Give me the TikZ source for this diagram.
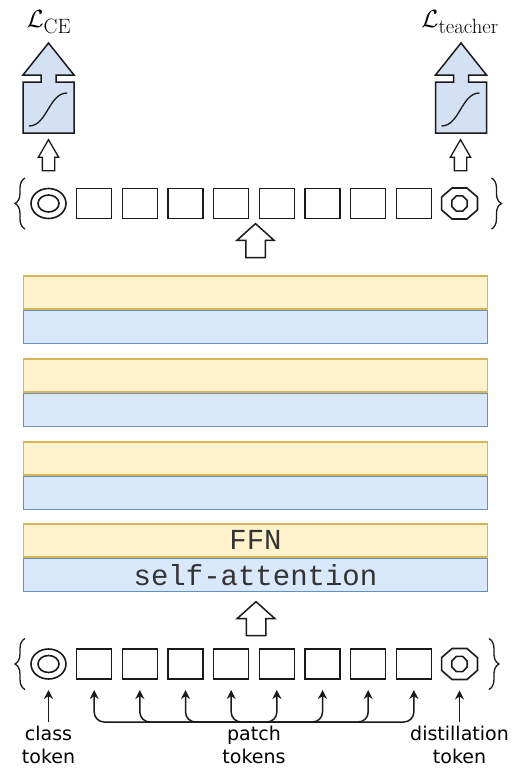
\documentclass[tikz,border=0pt]{standalone}
\usepackage{amsmath}
\usepackage{fontspec}
\setmonofont{Liberation Mono}
\newfontfamily\lblfont{DejaVu Sans}
\usetikzlibrary{positioning, calc, arrows.meta, shapes.arrows, shapes.geometric, decorations.pathreplacing}

\definecolor{ffnfill}{HTML}{FFF2CC}
\definecolor{ffnline}{HTML}{D6B656}
\definecolor{attfill}{HTML}{DAE8FC}
\definecolor{attline}{HTML}{6C8EBF}
\definecolor{lossfill}{HTML}{D4E1F5}
\definecolor{tokline}{HTML}{1A1A1A}
\definecolor{laytext}{HTML}{333333}

% sigmoid output box with its arrow head on top
\newcommand{\lossout}[2]{%
  \node[lossbox] (#1) at (#2) {};
  \draw[lossline] (#1.north west) -- (#1.south west) -- (#1.south east) -- (#1.north east)
    -- ++(-18,0) -- ++(0,-7) -- ++(18,0) -- ($(#1.north)+(0,-39)$)
    -- ($(#1.north west)+(0,-7)$) -- ++(18,0) -- ++(0,7) -- cycle;
  \draw[sigline] ($(#1.center)+(-19.5,18.5)$) .. controls +(18,0) and +(-18,0) .. ($(#1.center)+(18.5,-14.5)$);
}

\begin{document}
\begin{tikzpicture}[x=1pt, y=-1pt,
    tok/.style={draw=tokline, line width=1.6pt, inner sep=0pt, outer sep=0pt},
    patchtok/.style={tok, rectangle, minimum width=35pt, minimum height=30pt},
    clstok/.style={tok, ellipse, minimum width=35pt, minimum height=30pt},
    clsin/.style={tok, ellipse, minimum width=21pt, minimum height=17pt},
    disttok/.style={tok, regular polygon, regular polygon sides=8, minimum size=33.5pt, xscale=1.16, transform shape},
    distin/.style={tok, regular polygon, regular polygon sides=8, minimum size=16.5pt},
    brc/.style={draw=tokline, line width=1.3pt, decorate, decoration={brace, amplitude=10pt}},
    ffnlayer/.style={draw=ffnline, fill=ffnfill, line width=1.5pt, minimum width=464pt, minimum height=33pt, inner sep=0pt,
      text=laytext, font=\ttfamily\fontsize{29}{34}\selectfont},
    attlayer/.style={ffnlayer, draw=attline, fill=attfill},
    bigup/.style={single arrow, draw=tokline, fill=white, line width=1.5pt, shape border rotate=90, inner sep=9pt,
      minimum height=34pt, single arrow head extend=9pt, single arrow tip angle=96},
    smallup/.style={bigup, line width=1.3pt, inner sep=5.5pt, minimum height=31pt, single arrow head extend=4pt, single arrow tip angle=60},
    lossbox/.style={minimum size=51pt, inner sep=0pt, outer sep=0pt},
    lossline/.style={draw=tokline, fill=lossfill, line width=1.5pt},
    sigline/.style={draw=tokline, line width=1.3pt},
    losslbl/.style={anchor=base, inner sep=0pt, font=\Huge},
    lbl/.style={anchor=north, align=center, inner sep=4pt, font=\lblfont\fontsize{19}{22.5}\selectfont},
    tokarrow/.style={draw=tokline, line width=1.5pt, -{Stealth[length=9pt, width=9pt]}, shorten >=11pt}
  ]
  \useasboundingbox (0,0) rectangle (522,771);

  % token rows, top (output) and bottom (input)
  \foreach \r/\yr/\bo in {T/203.5/14, B/664/11.5} {
    \node[clstok] (cls\r) at (48.5,\yr) {};
    \node[clsin] (clsin\r) at (cls\r) {};
    \foreach \k in {1,...,8}
      \node[patchtok] (p\r\k) at ({48.5+45.67*\k},\yr) {};
    \node[disttok] (dist\r) at (459.5,\yr) {};
    \node[distin] (distin\r) at (dist\r) {};
    \draw[brc] ($(cls\r.west)+(-6,25.5)$) -- ($(cls\r.west)+(-6,-25.5)$);
    \draw[brc] ($(dist\r.east)+(\bo,-25.5)$) -- ($(dist\r.east)+(\bo,25.5)$);
  }

  % transformer blocks
  \foreach \i/\yt/\ftxt/\atxt in {1/275/{}/{}, 2/358/{}/{}, 3/441/{}/{}, 4/523/FFN/self-attention} {
    \node[ffnlayer, anchor=north] (ffn\i) at (255.5,\yt) {\ftxt};
    \node[attlayer, below=0pt of ffn\i] (att\i) {\atxt};
  }

  \node[bigup] (upT) at (255.5,245) {};
  \node[bigup] (upB) at (256,623) {};

  % output heads
  \lossout{lossCE}{48.5,107.5}
  \lossout{lossT}{461,107.5}
  \node[losslbl] (lblCE) at (48.8,27.3) {$\mathcal{L}_{\mbox{\huge CE}}$};
  \node[losslbl] (lblT) at (460,27.3) {$\mathcal{L}_{\mbox{\huge teacher}}$};
  \node[smallup] (upCE) at (48.5,160.5) {};
  \node[smallup] (upTc) at (460.5,160.5) {};

  % input labels
  \node[lbl] (clsL) at (48.5,722) {class\\token};
  \node[lbl] (ptchL) at (254,722) {patch\\tokens};
  \node[lbl] (distL) at (459.5,722) {distillation\\token};
  \draw[tokarrow] (clsL.north) -- (clsB.south);
  \draw[tokarrow] (distL.north) -- (distB.south);
  \foreach \k in {1,...,8}
    \draw[tokarrow, rounded corners=10pt] (ptchL.north) -| (pB\k.south);
\end{tikzpicture}
\end{document}
